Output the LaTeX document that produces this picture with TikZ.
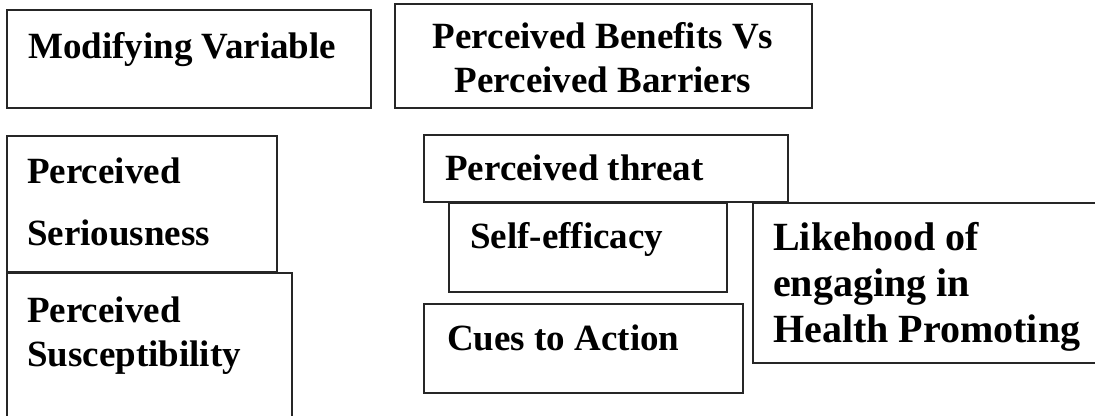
\documentclass[tikz,border=0pt]{standalone}
\usepackage{fontspec}
\setmainfont{Liberation Serif}
\begin{document}
\begin{tikzpicture}[x=1pt,y=-1pt,
  frame/.style={draw=black!85,line width=1.6pt},
  lbl/.style={inner sep=0pt,align=left,
    font=\fontsize{37}{44}\selectfont\bfseries},
  biglbl/.style={inner sep=0pt,align=left,
    font=\fontsize{40}{46}\selectfont\bfseries}]
\clip (0,0) rectangle (1095,415);
\fill[white] (0,0) rectangle (1095,415);

% boxes
\draw[frame] (7,10) rectangle (371,108);
\draw[frame] (395,4) rectangle (812,108);
\draw[frame] (7,136) rectangle (277,272);
\draw[frame] (7,425) -- (7,273) -- (292,273) -- (292,425);
\draw[frame] (424,135) rectangle (788,202);
\draw[frame] (449,203) rectangle (727,292);
\draw[frame] (424,304) rectangle (743,393);
\draw[frame] (1105,203) -- (753,203) -- (753,363) -- (1105,363);

% labels (multi-line nodes sit on the baseline of their last line)
\node[lbl,anchor=base west] (mod) at (28,58) {Modifying Variable};
\node[lbl,anchor=base,align=center] (ben) at (603,92)
  {Perceived Benefits Vs\\Perceived Barriers};
\node[lbl,anchor=base west] (ser) at (27,245) {Perceived\\[18pt]Seriousness};
\node[lbl,anchor=base west] (sus) at (27,366) {Perceived\\Susceptibility};
\node[lbl,anchor=base west] (thr) at (445,180) {Perceived threat};
\node[lbl,anchor=base west] (eff) at (470,248) {Self-efficacy};
\node[lbl,anchor=base west] (cue) at (447,350) {Cues to Action};
\node[biglbl,anchor=base west] (lik) at (773,342)
  {Likehood of\\engaging in\\Health Promoting};
\end{tikzpicture}
\end{document}
